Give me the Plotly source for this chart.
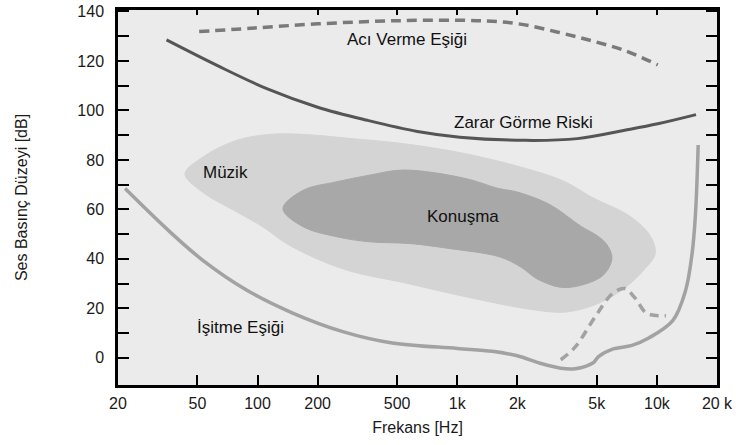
import math
import plotly.graph_objects as go

# ---------------- data ----------------
pain_f = [51, 92, 200, 520, 1250, 2030, 3200, 4700, 6900, 10100]
pain_db = [131.9, 133.2, 135.0, 136.3, 136.3, 135.0, 131.6, 128.2, 124.2, 118.4]

damage_f = [35, 63, 112, 200, 355, 632, 1030, 2200, 4000, 6900, 10100, 15700]
damage_db = [128.5, 118.1, 108.7, 101.3, 96.0, 91.5, 89.2, 87.9, 88.6, 92.0, 94.6, 98.3]

hearing_f = [21.7, 36.4, 53, 88, 150, 267, 473, 1000, 1500, 2000, 2600, 3300, 3900, 4800,
             5100, 6000, 7500, 9100, 12000, 13900, 15000, 15600, 16100]
hearing_db = [68.4, 50.9, 39.5, 27.4, 18.1, 10.6, 6.0, 3.8, 2.6, 0.8, -2.2, -4.2, -4.4, -2.0,
              0.5, 3.5, 5.0, 8.0, 15.0, 27.0, 42.0, 58.0, 86.0]

hearing2_f = [3300, 3900, 4900, 6000, 6900, 7800, 8900, 11100]
hearing2_db = [-0.8, 4.4, 16.5, 26.0, 28.0, 24.0, 18.0, 17.0]

music_f = [43.3, 53.4, 78.6, 115, 169, 298, 532, 1100, 2370, 3500, 4700, 7400, 9300,
           9800, 8600, 7000, 5100, 3500, 2370, 1100, 532, 298, 205, 139.5, 106, 78.6, 53, 43.3]
music_db = [74.4, 81.2, 87.9, 90.3, 90.3, 88.6, 86.6, 82.5, 75.8, 71.0, 65.0, 57.0, 49.0,
            42.0, 35.5, 28.6, 22.0, 18.5, 19.5, 24.7, 30.5, 34.8, 39.5, 46.2, 53.0, 59.0, 67.0, 74.4]

speech_f = [134, 169, 247, 362, 540, 1100, 1600, 2000, 2900, 4200, 5100, 5700,
            5950, 5400, 4200, 3300, 2500, 2100, 1630, 910, 577, 362, 247, 169, 134]
speech_db = [60.3, 67.7, 71.1, 73.8, 75.9, 72.5, 68.5, 67.0, 62.0, 53.0, 49.0, 45.0,
             40.0, 33.5, 29.4, 28.5, 32.0, 36.5, 40.8, 44.2, 46.2, 46.9, 49.0, 53.0, 60.3]

x_tickvals = [20, 50, 100, 200, 500, 1000, 2000, 5000, 10000, 20000]
x_ticktext = ["20", "50", "100", "200", "500", "1k", "2k", "5k", "10k", "20 k"]
y_tickvals = [0, 10, 20, 30, 40, 50, 60, 70, 80, 90, 100, 110, 120, 130, 140]
y_ticktext = ["0", "", "20", "", "40", "", "60", "", "80", "", "100", "", "120", "", "140"]

labels = ["Acı Verme Eşiği", "Zarar Görme Riski", "Müzik", "Konuşma", "İşitme Eşiği"]
label_f = [558, 2150, 69, 1074, 82]
label_db = [128.6, 95.3, 75.1, 57.0, 12.1]

FONT = "Liberation Sans, Arial, sans-serif"

fig = go.Figure()

fig.add_trace(go.Scatter(x=music_f, y=music_db, mode="lines", fill="toself",
                         fillcolor="#d4d4d4", line=dict(color="#d4d4d4", width=1, shape="spline", smoothing=1.0),
                         hoverinfo="skip", showlegend=False))
fig.add_trace(go.Scatter(x=speech_f, y=speech_db, mode="lines", fill="toself",
                         fillcolor="#a8a8a8", line=dict(color="#a8a8a8", width=1, shape="spline", smoothing=1.0),
                         hoverinfo="skip", showlegend=False))
fig.add_trace(go.Scatter(x=hearing_f, y=hearing_db, mode="lines",
                         line=dict(color="#a2a2a2", width=3.5, shape="spline", smoothing=1.0),
                         hoverinfo="skip", showlegend=False))
fig.add_trace(go.Scatter(x=hearing2_f, y=hearing2_db, mode="lines",
                         line=dict(color="#a2a2a2", width=3.5, shape="spline", dash="9px,6px"),
                         hoverinfo="skip", showlegend=False))
fig.add_trace(go.Scatter(x=damage_f, y=damage_db, mode="lines",
                         line=dict(color="#555555", width=3, shape="spline", smoothing=1.0),
                         hoverinfo="skip", showlegend=False))
fig.add_trace(go.Scatter(x=pain_f, y=pain_db, mode="lines",
                         line=dict(color="#7a7a7a", width=3.5, shape="spline", dash="10px,6px"),
                         hoverinfo="skip", showlegend=False))
# invisible trace for the top tick axis
fig.add_trace(go.Scatter(x=[100], y=[50], xaxis="x2", mode="markers",
                         marker=dict(opacity=0), hoverinfo="skip", showlegend=False))

for t, f, d in zip(labels, label_f, label_db):
    fig.add_annotation(x=math.log10(f), y=d, xref="x", yref="y", text=t, showarrow=False,
                       font=dict(family=FONT, size=17, color="#111111"),
                       xanchor="center", yanchor="middle")

xr = [math.log10(20), math.log10(20000)]

fig.update_layout(
    width=736, height=445,
    margin=dict(l=118, r=19, t=10, b=60, autoexpand=False),
    paper_bgcolor="white",
    plot_bgcolor="#ebebeb",
    font=dict(family=FONT, size=16, color="#1a1a1a"),
    xaxis=dict(type="log", range=xr, tickvals=x_tickvals, ticktext=x_ticktext,
               ticks="inside", ticklen=10, tickwidth=2, tickcolor="black",
               showline=True, linecolor="black", linewidth=2.5, mirror=True,
               showgrid=False, zeroline=False, automargin=False,
               title=dict(text="Frekans [Hz]", font=dict(size=16), standoff=11),
               tickfont=dict(size=16), ticklabelstandoff=2),
    xaxis2=dict(type="log", range=xr, overlaying="x", side="top", tickvals=x_tickvals,
                ticks="inside", ticklen=5, tickwidth=2, tickcolor="black", automargin=False,
                showticklabels=False, showline=False, showgrid=False, zeroline=False),
    yaxis=dict(range=[-11, 140.6], tickvals=y_tickvals, ticktext=y_ticktext,
               ticks="inside", ticklen=11, tickwidth=2, tickcolor="black",
               showline=True, linecolor="black", linewidth=2.5, mirror="ticks",
               showgrid=False, zeroline=False, automargin=False,
               title=dict(text="Ses Basınç Düzeyi [dB]", font=dict(size=16), standoff=46),
               tickfont=dict(size=16), ticklabelstandoff=8),
)

fig.write_html("out.html")
